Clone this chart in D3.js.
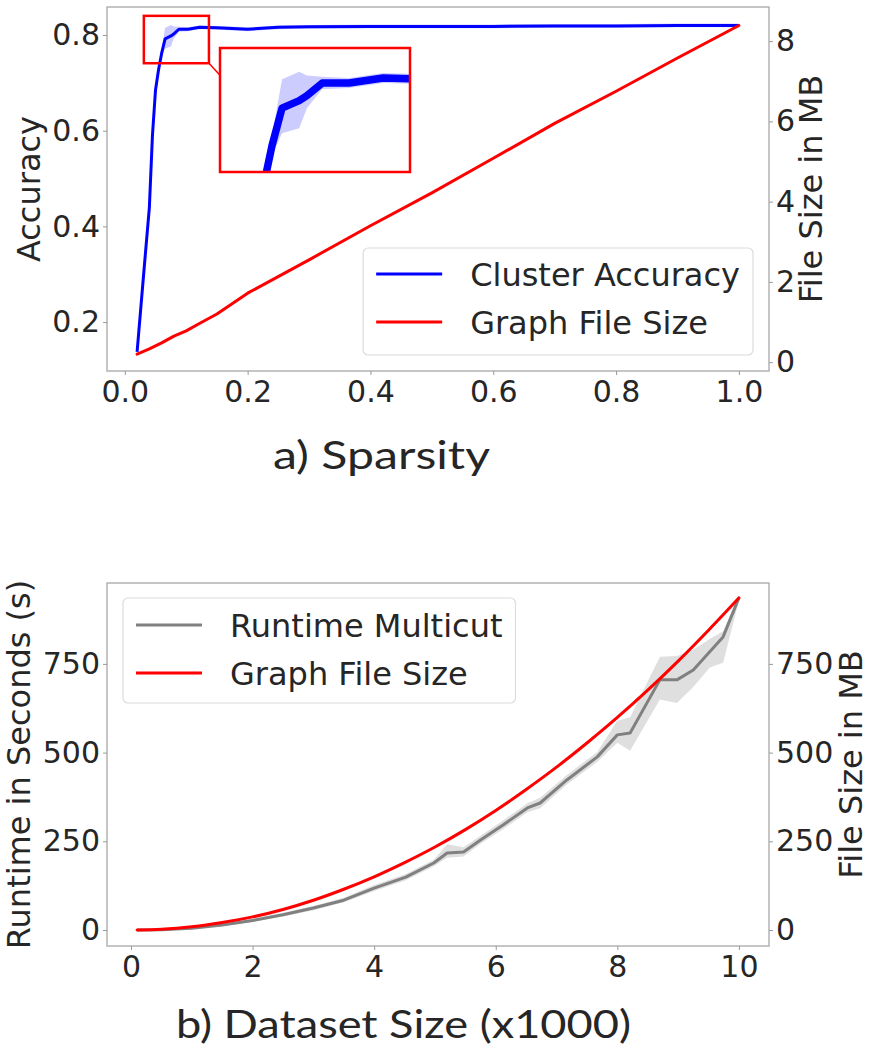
<!DOCTYPE html>
<html><head><meta charset="utf-8">
<script src="https://cdn.jsdelivr.net/npm/d3@7"></script>
<style>
body{margin:0;background:#fff}
svg text{font-family:"DejaVu Sans",sans-serif;fill:#262626}
</style>
</head><body>
<svg id="c" width="869" height="1051"></svg>
<script>
// ---------- Panel a) data ----------
const accX    = [0.02,0.03,0.04,0.045,0.05,0.055,0.06,0.0656,0.0752,0.0795,0.088,0.103,0.122,0.15,0.2,0.25,0.3,0.4,0.5,0.6,0.7,0.8,0.9,1.0];
const accMean = [0.138,0.29,0.44,0.59,0.685,0.728,0.762,0.792,0.798,0.802,0.812,0.812,0.816,0.815,0.812,0.816,0.817,0.818,0.818,0.818,0.819,0.819,0.82,0.82];
const accLow  = [0.134,0.285,0.435,0.583,0.678,0.72,0.754,0.772,0.776,0.792,0.807,0.808,0.812,0.811,0.808,0.812,0.813,0.814,0.814,0.814,0.815,0.815,0.816,0.816];
const accHigh = [0.142,0.295,0.445,0.597,0.692,0.736,0.77,0.815,0.821,0.818,0.817,0.816,0.82,0.819,0.816,0.82,0.821,0.822,0.822,0.822,0.823,0.823,0.824,0.824];
const sizeX   = [0.02,0.04,0.06,0.08,0.1,0.12,0.15,0.2,0.3,0.4,0.5,0.6,0.7,0.8,0.9,1.0];
const sizeMB  = [0.2,0.33,0.48,0.65,0.78,0.95,1.2,1.72,2.55,3.4,4.22,5.08,5.95,6.75,7.58,8.39];
const accTicks  = [0.2,0.4,0.6,0.8];
const sizeTicks = [0,2,4,6,8];
const sparTicks = [0.0,0.2,0.4,0.6,0.8,1.0];
const insetX = [0.031,0.137];
const insetY = [0.741,0.840];

// ---------- Panel b) data ----------
const runX    = [0.1,0.5,1,1.5,2,2.5,3,3.5,4,4.52,4.98,5.2,5.47,5.75,6.12,6.52,6.73,7.17,7.67,8.0,8.21,8.7,8.98,9.25,9.52,9.74,10];
const runMean = [0,1,5,14,27,43,62,84,118,149,189,217,220,254,296,344,358,423,488,550,555,705,705,733,784,826,936];
const runLow  = [0,0,3,11,23,38,56,78,110,140,180,204,207,243,284,332,343,410,474,528,505,650,640,685,740,753,928];
const runHigh = [1,3,8,18,32,49,68,91,127,158,198,242,233,266,309,357,373,437,502,590,600,770,772,790,820,842,944];
const fileX   = [0.1,0.5,1,1.5,2,2.5,3,3.5,4,4.5,5,5.5,6,6.5,7,7.5,8,8.5,9,9.5,10];
const fileMB  = [0,2,9,21,37,58,84,115,150,190,234,283,337,396,459,527,599,676,758,845,936];
const runTicks  = [0,250,500,750];
const dsTicks   = [0,2,4,6,8,10];

const BLUE="#0000ff", RED="#ff0000", GRAY="#808080";
const svg = d3.select("#c");
const L=107, R=769;

function frame(top,bot){
  svg.append("rect").attr("x",L).attr("y",top).attr("width",R-L).attr("height",bot-top)
    .attr("fill","none").attr("stroke","#b3b3b3").attr("stroke-width",1.5);
}
function styleAxis(g,fs){
  g.attr("font-size",null).attr("font-family",null);
  g.select(".domain").remove();
  g.selectAll(".tick line").attr("stroke","#999");
  g.selectAll(".tick text").style("font-size",fs+"px").attr("fill","#222");
}
function zip(xs,ys){return xs.map((x,i)=>[x,ys[i]]);}

// ================= Panel a =================
const aT=7, aB=371;
const xA = d3.scaleLinear().domain([-0.029,1.049]).range([L,R]);
const yAcc = d3.scaleLinear().domain([0.0978,0.8585]).range([aB,aT]);
const ySize = d3.scaleLinear().domain([-0.22,8.85]).range([aB,aT]);

const accBand = accX.map((x,i)=>({x,lo:accLow[i],hi:accHigh[i]}));
svg.append("path").datum(accBand).attr("fill",BLUE).attr("fill-opacity",0.2)
  .attr("d",d3.area().x(d=>xA(d.x)).y0(d=>yAcc(d.lo)).y1(d=>yAcc(d.hi)));
svg.append("path").datum(zip(accX,accMean)).attr("fill","none").attr("stroke",BLUE).attr("stroke-width",3)
  .attr("stroke-linejoin","round").attr("d",d3.line().x(d=>xA(d[0])).y(d=>yAcc(d[1])));
svg.append("path").datum(zip(sizeX,sizeMB)).attr("fill","none").attr("stroke",RED).attr("stroke-width",3)
  .attr("stroke-linecap","round").attr("stroke-linejoin","round").attr("d",d3.line().x(d=>xA(d[0])).y(d=>ySize(d[1])));

frame(aT,aB);
styleAxis(svg.append("g").attr("transform",`translate(0,${aB})`)
  .call(d3.axisBottom(xA).tickValues(sparTicks).tickFormat(d3.format(".1f")).tickSize(4).tickSizeOuter(0).tickPadding(6)),30);
styleAxis(svg.append("g").attr("transform",`translate(${L},0)`)
  .call(d3.axisLeft(yAcc).tickValues(accTicks).tickFormat(d3.format(".1f")).tickSize(4).tickSizeOuter(0).tickPadding(3)),30);
styleAxis(svg.append("g").attr("transform",`translate(${R},0)`)
  .call(d3.axisRight(ySize).tickValues(sizeTicks).tickFormat(d3.format("d")).tickSize(4).tickSizeOuter(0).tickPadding(3)),30);

svg.append("text").attr("transform",`translate(40,${(aT+aB)/2}) rotate(-90)`).attr("text-anchor","middle")
  .style("font-size","32px").text("Accuracy");
svg.append("text").attr("transform",`translate(822,${(aT+aB)/2}) rotate(-90)`).attr("text-anchor","middle")
  .style("font-size","32px").text("File Size in MB");

// indicator + inset
const ix0=xA(insetX[0]), ix1=xA(insetX[1]), iy0=yAcc(insetY[1]), iy1=yAcc(insetY[0]);
svg.append("rect").attr("x",ix0).attr("y",iy0).attr("width",ix1-ix0).attr("height",iy1-iy0)
  .attr("fill","none").attr("stroke",RED).attr("stroke-width",2.5);
const inL=220, inR=410, inT=48, inB=172;
svg.append("line").attr("x1",ix1).attr("y1",iy1).attr("x2",inL).attr("y2",inT+0.22*(inB-inT))
  .attr("stroke",RED).attr("stroke-width",1.5);
const xI = d3.scaleLinear().domain(insetX).range([inL,inR]);
const yI = d3.scaleLinear().domain(insetY).range([inB,inT]);
svg.append("rect").attr("x",inL).attr("y",inT).attr("width",inR-inL).attr("height",inB-inT).attr("fill","#fff");
svg.append("clipPath").attr("id","ic").append("rect").attr("x",inL).attr("y",inT).attr("width",inR-inL).attr("height",inB-inT);
const ig = svg.append("g").attr("clip-path","url(#ic)");
ig.append("path").datum(accBand).attr("fill",BLUE).attr("fill-opacity",0.2)
  .attr("d",d3.area().x(d=>xI(d.x)).y0(d=>yI(d.lo)).y1(d=>yI(d.hi)));
ig.append("path").datum(zip(accX,accMean)).attr("fill","none").attr("stroke",BLUE).attr("stroke-width",7.5)
  .attr("stroke-linejoin","round").attr("d",d3.line().x(d=>xI(d[0])).y(d=>yI(d[1])));
svg.append("rect").attr("x",inL).attr("y",inT).attr("width",inR-inL).attr("height",inB-inT)
  .attr("fill","none").attr("stroke",RED).attr("stroke-width",2.5);

// legends
function legend(rows, boxRight, boxLeft, top, bottom, rowY){
  const g = svg.append("g");
  const box = g.append("rect").attr("y",top).attr("height",bottom-top).attr("rx",5)
    .attr("fill","#fff").attr("fill-opacity",0.85).attr("stroke","#dcdcdc").attr("stroke-width",1.2);
  const texts = rows.map((r,i)=>g.append("text").attr("y",rowY[i]+11.5).style("font-size","32px").text(r.label));
  const w = d3.max(texts,t=>t.node().getComputedTextLength());
  const hl=66, pad=13, gap=28;
  let x0 = boxRight!=null ? boxRight-pad-w-gap-hl-pad : boxLeft;
  box.attr("x",x0).attr("width",pad+hl+gap+w+pad);
  rows.forEach((r,i)=>{
    g.append("line").attr("x1",x0+pad).attr("x2",x0+pad+hl).attr("y1",rowY[i]).attr("y2",rowY[i])
      .attr("stroke",r.color).attr("stroke-width",3);
    texts[i].attr("x",x0+pad+hl+gap);
  });
}
legend([{label:"Cluster Accuracy",color:BLUE},{label:"Graph File Size",color:RED}],753,null,248,355,[274,322]);

// title a
svg.append("text").attr("x",273).attr("y",469).style("font-family","Lato, 'Open Sans', sans-serif")
  .style("font-size","39px").attr("fill","#111").attr("textLength",217).attr("lengthAdjust","spacingAndGlyphs")
  .text("a)  Sparsity");

// ================= Panel b =================
const bT=583, bB=946;
const xB = d3.scaleLinear().domain([-0.395,10.495]).range([L,R]);
const yB = d3.scaleLinear().domain([-45,978]).range([bB,bT]);

const runBand = runX.map((x,i)=>({x,lo:runLow[i],hi:runHigh[i]}));
svg.append("path").datum(runBand).attr("fill",GRAY).attr("fill-opacity",0.25)
  .attr("d",d3.area().x(d=>xB(d.x)).y0(d=>yB(d.lo)).y1(d=>yB(d.hi)));
svg.append("path").datum(zip(runX,runMean)).attr("fill","none").attr("stroke",GRAY).attr("stroke-width",3)
  .attr("stroke-linejoin","round").attr("d",d3.line().x(d=>xB(d[0])).y(d=>yB(d[1])));
svg.append("path").datum(zip(fileX,fileMB)).attr("fill","none").attr("stroke",RED).attr("stroke-width",3)
  .attr("stroke-linecap","round").attr("d",d3.line().curve(d3.curveMonotoneX).x(d=>xB(d[0])).y(d=>yB(d[1])));

frame(bT,bB);
styleAxis(svg.append("g").attr("transform",`translate(0,${bB})`)
  .call(d3.axisBottom(xB).tickValues(dsTicks).tickFormat(d3.format("d")).tickSize(4).tickSizeOuter(0).tickPadding(6)),30);
styleAxis(svg.append("g").attr("transform",`translate(${L},0)`)
  .call(d3.axisLeft(yB).tickValues(runTicks).tickFormat(d3.format("d")).tickSize(4).tickSizeOuter(0).tickPadding(3)),30);
styleAxis(svg.append("g").attr("transform",`translate(${R},0)`)
  .call(d3.axisRight(yB).tickValues(runTicks).tickFormat(d3.format("d")).tickSize(4).tickSizeOuter(0).tickPadding(3)),30);

svg.append("text").attr("transform",`translate(30,${(bT+bB)/2}) rotate(-90)`).attr("text-anchor","middle")
  .style("font-size","32px").text("Runtime in Seconds (s)");
svg.append("text").attr("transform",`translate(862,${(bT+bB)/2}) rotate(-90)`).attr("text-anchor","middle")
  .style("font-size","32px").text("File Size in MB");

legend([{label:"Runtime Multicut",color:GRAY},{label:"Graph File Size",color:RED}],null,123,598,703,[625,673]);

svg.append("text").attr("x",176).attr("y",1038).style("font-family","Lato, 'Open Sans', sans-serif")
  .style("font-size","39px").attr("fill","#111").attr("textLength",455).attr("lengthAdjust","spacingAndGlyphs")
  .text("b)  Dataset Size (x1000)");
</script>
</body></html>
